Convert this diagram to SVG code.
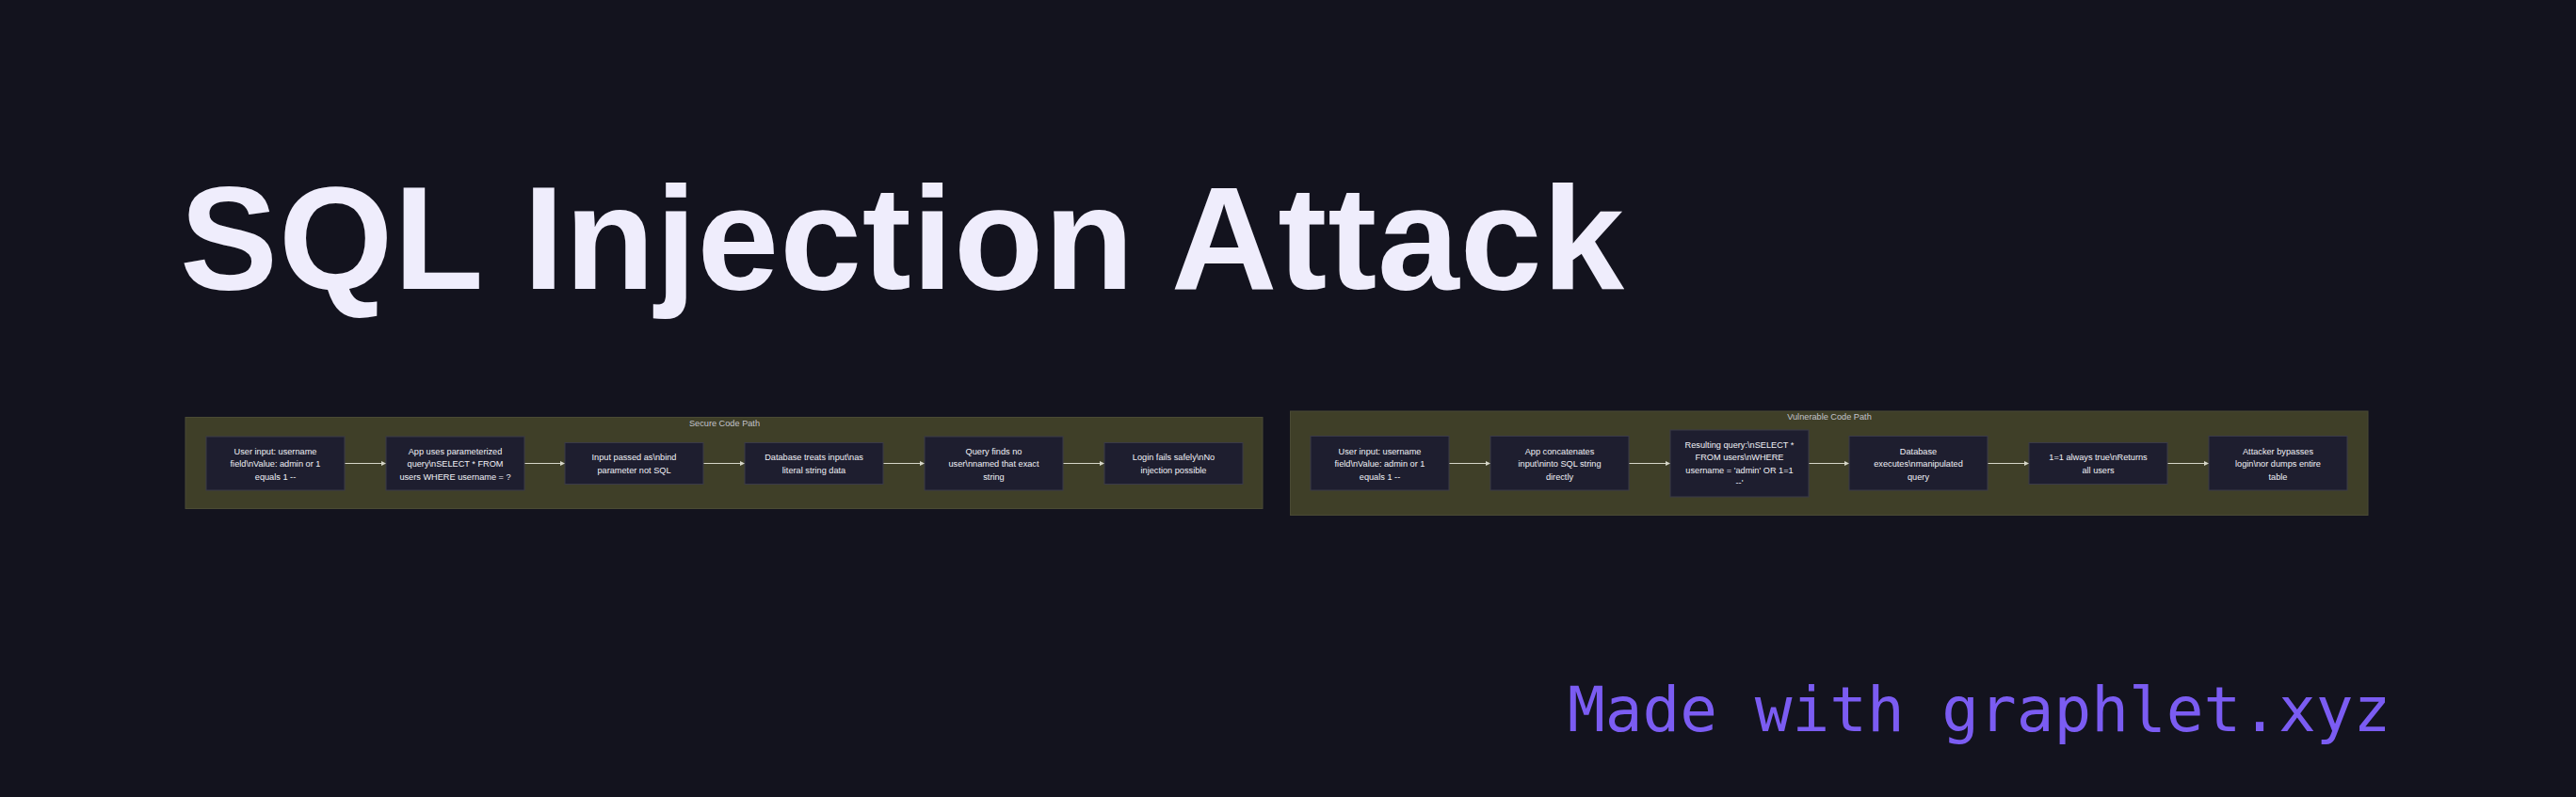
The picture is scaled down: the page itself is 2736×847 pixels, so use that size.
<svg xmlns="http://www.w3.org/2000/svg" width="2736" height="847" viewBox="0 0 2736 847">
<defs>
<style>
.panel{fill:#3f3f28;stroke:#4a4a34;stroke-width:1}
.node rect{fill:#1e1e2f;stroke:#3a3a48;stroke-width:1}
.nt{font-family:"Liberation Sans",Arial,sans-serif;font-size:9.2px;fill:#f2f2f8;text-anchor:middle}
.pl{font-family:"Liberation Sans",Arial,sans-serif;font-size:9.2px;fill:#c4c4cc;text-anchor:middle}
.edge{stroke:#d6d6c8;stroke-width:1;fill:none}
</style>
<marker id="ah" viewBox="0 0 10 10" refX="10" refY="5" markerUnits="userSpaceOnUse" markerWidth="5" markerHeight="5" orient="auto">
<path d="M0,0 L10,5 L0,10 Z" fill="#d6d6c8"/>
</marker>
</defs>
<rect width="2736" height="847" fill="#13131e"/>
<text x="191" y="307" font-family="'Liberation Sans',Arial,sans-serif" font-weight="bold" font-size="156" letter-spacing="0.9" fill="#efedfc">SQL Injection Attack</text>
<text x="1665" y="777" font-family="'DejaVu Sans Mono',monospace" font-size="66" fill="#7b5cf2">Made with graphlet.xyz</text>

<g id="secure-panel">
<rect class="panel" x="197" y="443.5" width="1144" height="97"/>
<text class="pl" x="769.5" y="452.5">Secure Code Path</text>
</g>
<g id="vulnerable-panel">
<rect class="panel" x="1370.5" y="437" width="1144.5" height="110.5"/>
<text class="pl" x="1943" y="446">Vulnerable Code Path</text>
</g>

<g id="connectors">
<path class="edge" d="M366,492.5 L410,492.5" marker-end="url(#ah)"/>
<path class="edge" d="M557,492.5 L600,492.5" marker-end="url(#ah)"/>
<path class="edge" d="M747,492.5 L791,492.5" marker-end="url(#ah)"/>
<path class="edge" d="M938,492.5 L982,492.5" marker-end="url(#ah)"/>
<path class="edge" d="M1129,492.5 L1173,492.5" marker-end="url(#ah)"/>
<path class="edge" d="M1539,492.5 L1583,492.5" marker-end="url(#ah)"/>
<path class="edge" d="M1730,492.5 L1774,492.5" marker-end="url(#ah)"/>
<path class="edge" d="M1921,492.5 L1964,492.5" marker-end="url(#ah)"/>
<path class="edge" d="M2111,492.5 L2155,492.5" marker-end="url(#ah)"/>
<path class="edge" d="M2302,492.5 L2346,492.5" marker-end="url(#ah)"/>
</g>

<g id="s1" class="node">
<rect x="219" y="464" width="147" height="57"/>
<text class="nt" x="292.5" y="482.5">User input: username</text>
<text class="nt" x="292.5" y="496">field\nValue: admin or 1</text>
<text class="nt" x="292.5" y="509.5">equals 1 --</text>
</g>
<g id="s2" class="node">
<rect x="410" y="464" width="147" height="57"/>
<text class="nt" x="483.5" y="482.5">App uses parameterized</text>
<text class="nt" x="483.5" y="496">query\nSELECT * FROM</text>
<text class="nt" x="483.5" y="509.5">users WHERE username = ?</text>
</g>
<g id="s3" class="node">
<rect x="600" y="470.5" width="147" height="44"/>
<text class="nt" x="673.5" y="489">Input passed as\nbind</text>
<text class="nt" x="673.5" y="502.5">parameter not SQL</text>
</g>
<g id="s4" class="node">
<rect x="791" y="470.5" width="147" height="44"/>
<text class="nt" x="864.5" y="489">Database treats input\nas</text>
<text class="nt" x="864.5" y="502.5">literal string data</text>
</g>
<g id="s5" class="node">
<rect x="982" y="464" width="147" height="57"/>
<text class="nt" x="1055.5" y="482.5">Query finds no</text>
<text class="nt" x="1055.5" y="496">user\nnamed that exact</text>
<text class="nt" x="1055.5" y="509.5">string</text>
</g>
<g id="s6" class="node">
<rect x="1173" y="470.5" width="147" height="44"/>
<text class="nt" x="1246.5" y="489">Login fails safely\nNo</text>
<text class="nt" x="1246.5" y="502.5">injection possible</text>
</g>

<g id="v1" class="node">
<rect x="1392" y="463.5" width="147" height="57.5"/>
<text class="nt" x="1465.5" y="482.5">User input: username</text>
<text class="nt" x="1465.5" y="496">field\nValue: admin or 1</text>
<text class="nt" x="1465.5" y="509.5">equals 1 --</text>
</g>
<g id="v2" class="node">
<rect x="1583" y="463.5" width="147" height="57.5"/>
<text class="nt" x="1656.5" y="482.5">App concatenates</text>
<text class="nt" x="1656.5" y="496">input\ninto SQL string</text>
<text class="nt" x="1656.5" y="509.5">directly</text>
</g>
<g id="v3" class="node">
<rect x="1774" y="457" width="147" height="71"/>
<text class="nt" x="1847.5" y="475.8">Resulting query:\nSELECT *</text>
<text class="nt" x="1847.5" y="489.2">FROM users\nWHERE</text>
<text class="nt" x="1847.5" y="502.6">username = 'admin' OR 1=1</text>
<text class="nt" x="1847.5" y="516">--'</text>
</g>
<g id="v4" class="node">
<rect x="1964" y="463.5" width="147" height="57.5"/>
<text class="nt" x="2037.5" y="482.5">Database</text>
<text class="nt" x="2037.5" y="496">executes\nmanipulated</text>
<text class="nt" x="2037.5" y="509.5">query</text>
</g>
<g id="v5" class="node">
<rect x="2155" y="470.5" width="147" height="44"/>
<text class="nt" x="2228.5" y="489">1=1 always true\nReturns</text>
<text class="nt" x="2228.5" y="502.5">all users</text>
</g>
<g id="v6" class="node">
<rect x="2346" y="463.5" width="147" height="57.5"/>
<text class="nt" x="2419.5" y="482.5">Attacker bypasses</text>
<text class="nt" x="2419.5" y="496">login\nor dumps entire</text>
<text class="nt" x="2419.5" y="509.5">table</text>
</g>
</svg>
